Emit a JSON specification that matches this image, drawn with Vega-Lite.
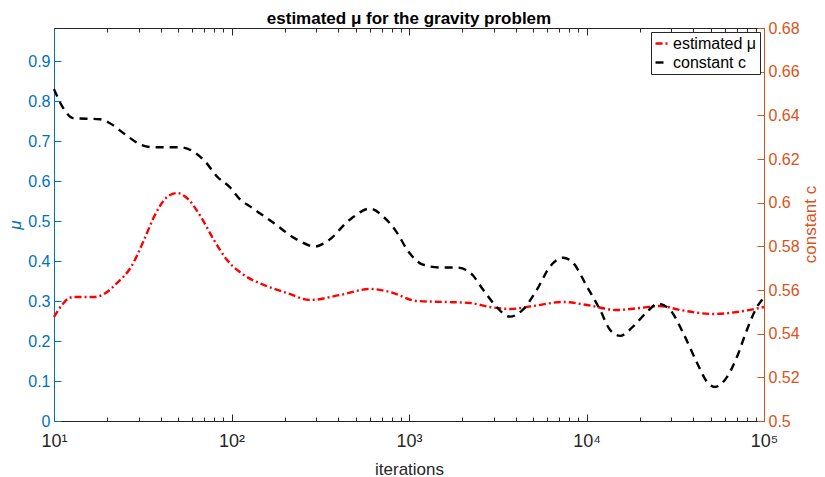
{
  "$schema": "https://vega.github.io/schema/vega-lite/v6.json",
  "width": 710,
  "height": 393,
  "autosize": "none",
  "padding": {"left": 54, "top": 28, "right": 61, "bottom": 56},
  "background": "white",
  "config": {
    "font": "Liberation Sans",
    "view": {"stroke": "#262626", "strokeWidth": 1},
    "axis": {"grid": false, "labelFont": "Liberation Sans", "titleFont": "Liberation Sans", "labelFontSize": 16, "titleFontSize": 17, "titleFontWeight": "normal"}
  },
  "title": {"text": "estimated μ for the gravity problem", "fontSize": 17, "fontWeight": "bold", "color": "#000000", "anchor": "middle", "offset": 5, "dy": 13, "font": "Liberation Sans"},
  "data": {"values": [
    {"it": 10, "series": "estimated μ", "v": 0.260},
    {"it": 11.09, "series": "estimated μ", "v": 0.290},
    {"it": 12.16, "series": "estimated μ", "v": 0.3075},
    {"it": 12.97, "series": "estimated μ", "v": 0.310},
    {"it": 16.79, "series": "estimated μ", "v": 0.310},
    {"it": 19.14, "series": "estimated μ", "v": 0.3175},
    {"it": 22.65, "series": "estimated μ", "v": 0.345},
    {"it": 27.16, "series": "estimated μ", "v": 0.385},
    {"it": 32.14, "series": "estimated μ", "v": 0.4525},
    {"it": 36.56, "series": "estimated μ", "v": 0.510},
    {"it": 43.35, "series": "estimated μ", "v": 0.560},
    {"it": 49.32, "series": "estimated μ", "v": 0.570},
    {"it": 56.10, "series": "estimated μ", "v": 0.5575},
    {"it": 67.30, "series": "estimated μ", "v": 0.510},
    {"it": 79.62, "series": "estimated μ", "v": 0.4525},
    {"it": 94.41, "series": "estimated μ", "v": 0.4025},
    {"it": 117.5, "series": "estimated μ", "v": 0.365},
    {"it": 152.4, "series": "estimated μ", "v": 0.340},
    {"it": 205.6, "series": "estimated μ", "v": 0.320},
    {"it": 276.7, "series": "estimated μ", "v": 0.3025},
    {"it": 408.3, "series": "estimated μ", "v": 0.315},
    {"it": 602.6, "series": "estimated μ", "v": 0.330},
    {"it": 781.6, "series": "estimated μ", "v": 0.3225},
    {"it": 1109, "series": "estimated μ", "v": 0.300},
    {"it": 1637, "series": "estimated μ", "v": 0.2975},
    {"it": 2208, "series": "estimated μ", "v": 0.295},
    {"it": 2858, "series": "estimated μ", "v": 0.285},
    {"it": 3707, "series": "estimated μ", "v": 0.280},
    {"it": 5000, "series": "estimated μ", "v": 0.2875},
    {"it": 7379, "series": "estimated μ", "v": 0.2975},
    {"it": 10069, "series": "estimated μ", "v": 0.290},
    {"it": 14859, "series": "estimated μ", "v": 0.2775},
    {"it": 19999, "series": "estimated μ", "v": 0.2825},
    {"it": 25942, "series": "estimated μ", "v": 0.2875},
    {"it": 33651, "series": "estimated μ", "v": 0.2775},
    {"it": 51642, "series": "estimated μ", "v": 0.2675},
    {"it": 70469, "series": "estimated μ", "v": 0.2725},
    {"it": 100000, "series": "estimated μ", "v": 0.285},
    {"it": 10, "series": "constant c", "v": 0.6520},
    {"it": 11.38, "series": "constant c", "v": 0.6428},
    {"it": 12.79, "series": "constant c", "v": 0.6387},
    {"it": 18.16, "series": "constant c", "v": 0.6382},
    {"it": 20.65, "series": "constant c", "v": 0.6364},
    {"it": 25.12, "series": "constant c", "v": 0.6313},
    {"it": 30.55, "series": "constant c", "v": 0.6267},
    {"it": 36.14, "series": "constant c", "v": 0.6254},
    {"it": 51.29, "series": "constant c", "v": 0.6254},
    {"it": 60.67, "series": "constant c", "v": 0.6235},
    {"it": 70.96, "series": "constant c", "v": 0.6189},
    {"it": 82.79, "series": "constant c", "v": 0.6120},
    {"it": 98.17, "series": "constant c", "v": 0.6070},
    {"it": 111.7, "series": "constant c", "v": 0.6015},
    {"it": 127.1, "series": "constant c", "v": 0.5983},
    {"it": 171.4, "series": "constant c", "v": 0.5909},
    {"it": 233.9, "series": "constant c", "v": 0.5831},
    {"it": 295.1, "series": "constant c", "v": 0.5799},
    {"it": 345.1, "series": "constant c", "v": 0.5822},
    {"it": 465.6, "series": "constant c", "v": 0.5923},
    {"it": 602.6, "series": "constant c", "v": 0.5973},
    {"it": 714.5, "series": "constant c", "v": 0.5937},
    {"it": 855.1, "series": "constant c", "v": 0.5863},
    {"it": 975, "series": "constant c", "v": 0.5785},
    {"it": 1199, "series": "constant c", "v": 0.5716},
    {"it": 1496, "series": "constant c", "v": 0.5703},
    {"it": 1862, "series": "constant c", "v": 0.5703},
    {"it": 2208, "series": "constant c", "v": 0.5680},
    {"it": 2612, "series": "constant c", "v": 0.5602},
    {"it": 2972, "series": "constant c", "v": 0.5542},
    {"it": 3707, "series": "constant c", "v": 0.5478},
    {"it": 4385, "series": "constant c", "v": 0.5510},
    {"it": 5260, "series": "constant c", "v": 0.5602},
    {"it": 6223, "series": "constant c", "v": 0.5707},
    {"it": 7379, "series": "constant c", "v": 0.5748},
    {"it": 8395, "series": "constant c", "v": 0.5725},
    {"it": 10069, "series": "constant c", "v": 0.5615},
    {"it": 11912, "series": "constant c", "v": 0.5510},
    {"it": 13552, "series": "constant c", "v": 0.5418},
    {"it": 15453, "series": "constant c", "v": 0.5390},
    {"it": 18281, "series": "constant c", "v": 0.5432},
    {"it": 21928, "series": "constant c", "v": 0.5500},
    {"it": 25293, "series": "constant c", "v": 0.5537},
    {"it": 29512, "series": "constant c", "v": 0.5510},
    {"it": 34995, "series": "constant c", "v": 0.5404},
    {"it": 41976, "series": "constant c", "v": 0.5266},
    {"it": 47753, "series": "constant c", "v": 0.5179},
    {"it": 52966, "series": "constant c", "v": 0.5156},
    {"it": 61944, "series": "constant c", "v": 0.5202},
    {"it": 70469, "series": "constant c", "v": 0.5294},
    {"it": 80168, "series": "constant c", "v": 0.5418},
    {"it": 91411, "series": "constant c", "v": 0.5523},
    {"it": 100000, "series": "constant c", "v": 0.5565}
  ]},
  "layer": [
    {
      "transform": [{"filter": "datum.series === 'estimated μ'"}],
      "mark": {"type": "line", "interpolate": "monotone", "strokeWidth": 2.4},
      "encoding": {
        "x": {"field": "it", "type": "quantitative",
          "scale": {"type": "log", "domain": [10, 100000], "nice": false},
          "axis": {"orient": "bottom", "title": "iterations", "titleColor": "#262626", "titlePadding": 8,
            "domainColor": "#262626", "tickColor": "#262626", "labelColor": "#262626",
            "labelFlush": false, "labelBound": false, "labelOverlap": false,
            "values": [10,20,30,40,50,60,70,80,90,100,200,300,400,500,600,700,800,900,1000,2000,3000,4000,5000,6000,7000,8000,9000,10000,20000,30000,40000,50000,60000,70000,80000,90000,100000],
            "tickSize": {"condition": {"test": "abs(log(datum.value)/LN10 - round(log(datum.value)/LN10)) < 0.000001", "value": -7}, "value": -4},
            "labelPadding": 18, "labelFontSize": 18,
            "labelExpr": "datum.value == 10 ? '10¹' : datum.value == 100 ? '10²' : datum.value == 1000 ? '10³' : datum.value == 10000 ? '10⁴' : datum.value == 100000 ? '10⁵' : ''"}},
        "y": {"field": "v", "type": "quantitative",
          "scale": {"domain": [0, 0.9825], "nice": false, "zero": false},
          "axis": {"orient": "left", "title": "μ", "titleFontStyle": "italic", "titleColor": "#0072BD",
            "domainColor": "#0072BD", "tickColor": "#0072BD", "labelColor": "#0072BD",
            "values": [0,0.1,0.2,0.3,0.4,0.5,0.6,0.7,0.8,0.9], "format": ".1~f",
            "tickSize": -7, "labelPadding": 11, "titlePadding": 3}},
        "color": {"field": "series", "type": "nominal",
          "scale": {"domain": ["estimated μ", "constant c"], "range": ["#FF0000", "#000000"]},
          "legend": {"orient": "top-right", "title": null, "offset": 4, "labelFontSize": 16, "labelColor": "#000000",
            "strokeColor": "#262626", "fillColor": "white", "padding": 3, "rowPadding": 2,
            "symbolType": "stroke", "symbolSize": 196, "symbolStrokeWidth": 2.4, "labelOffset": 2}},
        "strokeDash": {"field": "series", "type": "nominal",
          "scale": {"domain": ["estimated μ", "constant c"], "range": [[7, 3, 2, 3], [8, 6]]},
          "legend": {"orient": "top-right", "title": null}}
      }
    },
    {
      "transform": [{"filter": "datum.series === 'constant c'"}],
      "mark": {"type": "line", "interpolate": "monotone", "strokeWidth": 2.4},
      "encoding": {
        "x": {"field": "it", "type": "quantitative",
          "scale": {"type": "log", "domain": [10, 100000], "nice": false},
          "axis": {"orient": "top", "title": null, "labels": false,
            "domainColor": "#262626", "tickColor": "#262626",
            "values": [10,20,30,40,50,60,70,80,90,100,200,300,400,500,600,700,800,900,1000,2000,3000,4000,5000,6000,7000,8000,9000,10000,20000,30000,40000,50000,60000,70000,80000,90000,100000],
            "tickSize": {"condition": {"test": "abs(log(datum.value)/LN10 - round(log(datum.value)/LN10)) < 0.000001", "value": -7}, "value": -4}}},
        "y": {"field": "v", "type": "quantitative",
          "scale": {"domain": [0.5, 0.68], "nice": false, "zero": false},
          "axis": {"orient": "right", "title": "constant c", "titleColor": "#D95319", "titleAngle": 270,
            "titleX": 46, "titleY": 196, "titleAlign": "center", "titleBaseline": "middle",
            "domainColor": "#D95319", "tickColor": "#D95319", "labelColor": "#D95319",
            "values": [0.5,0.52,0.54,0.56,0.58,0.6,0.62,0.64,0.66,0.68], "format": ".2~f",
            "tickSize": -7, "labelPadding": 11}},
        "color": {"field": "series", "type": "nominal",
          "scale": {"domain": ["estimated μ", "constant c"], "range": ["#FF0000", "#000000"]}},
        "strokeDash": {"field": "series", "type": "nominal",
          "scale": {"domain": ["estimated μ", "constant c"], "range": [[7, 3, 2, 3], [8, 6]]}}
      }
    }
  ],
  "resolve": {"scale": {"y": "independent"}, "axis": {"x": "independent", "y": "independent"}}
}
